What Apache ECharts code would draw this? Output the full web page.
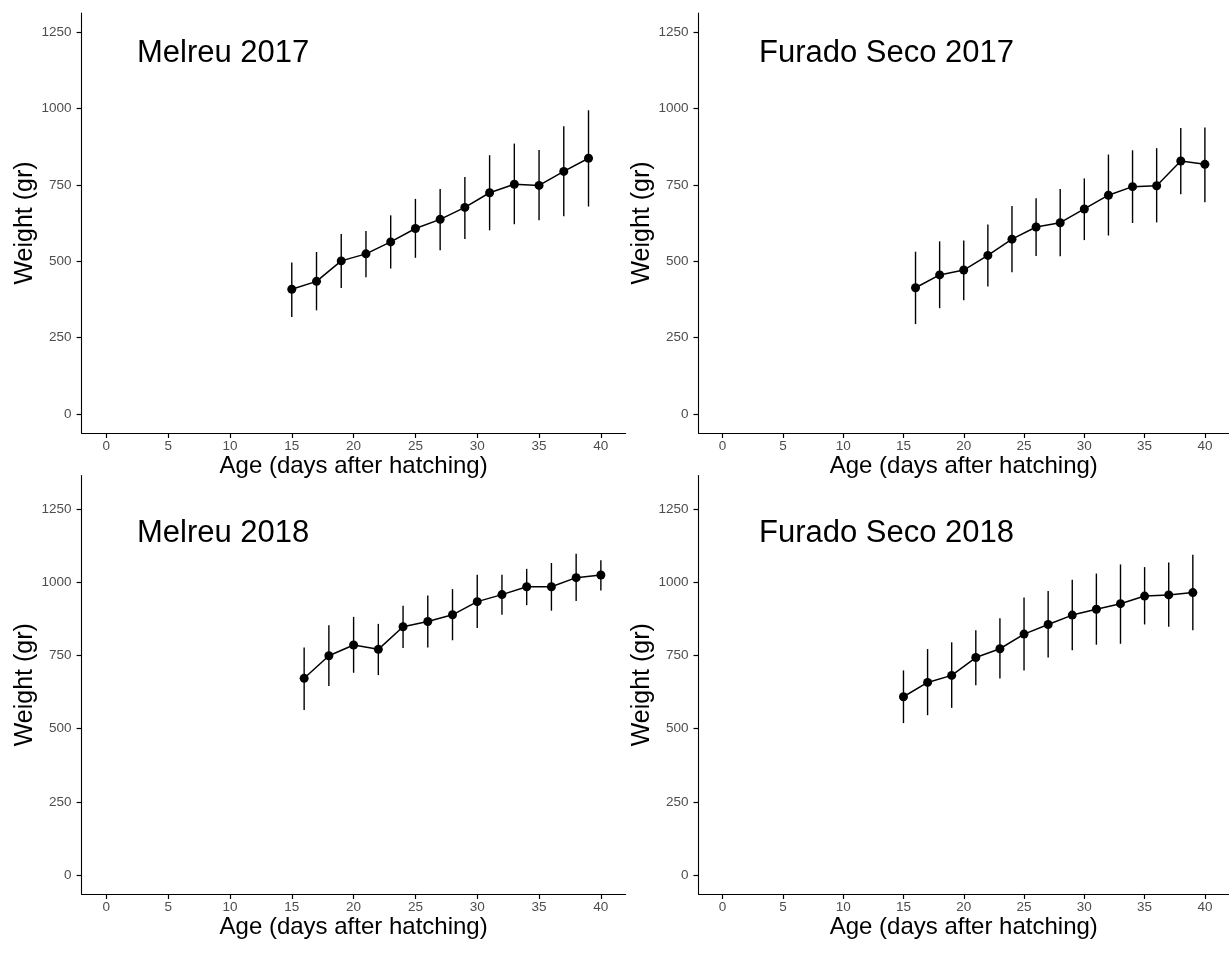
<!DOCTYPE html>
<html>
<head>
<meta charset="utf-8">
<script src="https://cdn.jsdelivr.net/npm/echarts@6/dist/echarts.min.js"></script>
<style>
  html, body { margin: 0; padding: 0; background: #fff; }
  #chart { width: 1229px; height: 958px; }
</style>
</head>
<body>
<div id="chart"></div>
<script>
// ---- Data ----
const panelTitles = ['Melreu 2017', 'Furado Seco 2017', 'Melreu 2018', 'Furado Seco 2018'];
const xTicks = [0, 5, 10, 15, 20, 25, 30, 35, 40];
const yTicks = [0, 250, 500, 750, 1000, 1250];
const xTitle = 'Age (days after hatching)';
const yTitle = 'Weight (gr)';

const agesMelreu2017 = [15, 17, 19, 21, 23, 25, 27, 29, 31, 33, 35, 37, 39];
const meanMelreu2017 = [408, 434, 501, 524, 563, 607, 637, 676, 724, 752, 748, 794, 837];
const upperMelreu2017 = [496, 530, 589, 599, 650, 704, 736, 776, 847, 885, 864, 942, 994];
const lowerMelreu2017 = [317, 339, 412, 447, 476, 511, 536, 573, 601, 621, 634, 647, 679];

const agesFurado2017 = [16, 18, 20, 22, 24, 26, 28, 30, 32, 34, 36, 38, 40];
const meanFurado2017 = [413, 455, 471, 519, 572, 612, 626, 671, 716, 744, 747, 828, 817];
const upperFurado2017 = [531, 565, 568, 620, 681, 706, 736, 771, 849, 863, 870, 936, 938];
const lowerFurado2017 = [294, 346, 372, 417, 464, 517, 516, 569, 584, 625, 627, 719, 693];

const agesMelreu2018 = [16, 18, 20, 22, 24, 26, 28, 30, 32, 34, 36, 38, 40];
const meanMelreu2018 = [672, 749, 786, 771, 848, 866, 889, 934, 958, 985, 985, 1016, 1025];
const upperMelreu2018 = [777, 853, 882, 858, 920, 955, 977, 1026, 1026, 1046, 1066, 1098, 1075];
const lowerMelreu2018 = [564, 646, 691, 683, 776, 777, 802, 844, 889, 922, 903, 936, 972];

const agesFurado2018 = [15, 17, 19, 21, 23, 25, 27, 29, 31, 33, 35, 37, 39];
const meanFurado2018 = [609, 658, 682, 743, 773, 823, 856, 888, 908, 927, 953, 957, 965];
const upperFurado2018 = [699, 772, 795, 836, 877, 948, 970, 1009, 1030, 1061, 1052, 1068, 1094];
const lowerFurado2018 = [519, 546, 571, 648, 671, 699, 743, 768, 787, 790, 856, 848, 836];

// ---- Layout ----
const FONT = "'Liberation Sans', Arial, Helvetica, sans-serif";
const panels = [
  { ages: agesMelreu2017, mean: meanMelreu2017, up: upperMelreu2017, lo: lowerMelreu2017,
    grid: { left: 81.6, top: 13, width: 544, height: 420 }, yRange: [-62.5, 1312.5],
    titlePos: { left: 137, top: 38 } },
  { ages: agesFurado2017, mean: meanFurado2017, up: upperFurado2017, lo: lowerFurado2017,
    grid: { left: 698.5, top: 13, width: 541, height: 420 }, yRange: [-62.5, 1312.5],
    titlePos: { left: 759, top: 38 } },
  { ages: agesMelreu2018, mean: meanMelreu2018, up: upperMelreu2018, lo: lowerMelreu2018,
    grid: { left: 81.6, top: 475.5, width: 544, height: 418.5 }, yRange: [-65, 1365],
    titlePos: { left: 137, top: 518 } },
  { ages: agesFurado2018, mean: meanFurado2018, up: upperFurado2018, lo: lowerFurado2018,
    grid: { left: 698.5, top: 475.5, width: 541, height: 418.5 }, yRange: [-65, 1365],
    titlePos: { left: 759, top: 518 } }
];

const axisLineStyle = { color: '#000', width: 1.1 };
const tickStyle = { color: '#000', width: 1.2 };
const labelStyle = { color: '#4D4D4D', fontSize: 13.5, fontFamily: FONT };
const nameStyle = { color: '#000', fontSize: 24, fontFamily: FONT };
const plain = v => String(v);

const option = {
  backgroundColor: '#fff',
  animation: false,
  title: panels.map((p, i) => ({
    text: panelTitles[i],
    left: p.titlePos.left, top: p.titlePos.top, padding: 0,
    textStyle: { color: '#000', fontSize: 31, fontWeight: 'normal', fontFamily: FONT }
  })),
  grid: panels.map(p => Object.assign({ containLabel: false }, p.grid)),
  xAxis: panels.map((p, i) => ({
    type: 'value', gridIndex: i, min: -2, max: 42,
    name: xTitle, nameLocation: 'middle', nameGap: 20, nameTextStyle: nameStyle,
    splitLine: { show: false },
    axisLine: { show: true, onZero: false, lineStyle: axisLineStyle },
    axisTick: { show: true, length: 5, inside: false, lineStyle: tickStyle, customValues: xTicks },
    axisLabel: Object.assign({ show: true, margin: 6, customValues: xTicks, formatter: plain }, labelStyle)
  })),
  yAxis: panels.map((p, i) => ({
    type: 'value', gridIndex: i, min: p.yRange[0], max: p.yRange[1],
    name: yTitle, nameLocation: 'middle', nameGap: 33, nameTextStyle: Object.assign({}, nameStyle, { fontSize: 25 }),
    splitLine: { show: false },
    axisLine: { show: true, onZero: false, lineStyle: axisLineStyle },
    axisTick: { show: true, length: 5, inside: false, lineStyle: tickStyle, customValues: yTicks },
    axisLabel: Object.assign({ show: true, margin: 10, customValues: yTicks, formatter: plain }, labelStyle)
  })),
  series: []
};

panels.forEach((p, i) => {
  option.series.push({
    type: 'custom', xAxisIndex: i, yAxisIndex: i, z: 2,
    data: p.ages.map((a, k) => [a, p.lo[k], p.up[k]]),
    renderItem: function (params, api) {
      const x = api.value(0);
      const a = api.coord([x, api.value(1)]);
      const b = api.coord([x, api.value(2)]);
      return {
        type: 'line',
        shape: { x1: a[0], y1: a[1], x2: b[0], y2: b[1] },
        style: { stroke: '#000', lineWidth: 1.4 }
      };
    }
  });
  option.series.push({
    type: 'line', xAxisIndex: i, yAxisIndex: i, z: 3,
    data: p.ages.map((a, k) => [a, p.mean[k]]),
    symbol: 'circle', symbolSize: 9, showSymbol: true,
    itemStyle: { color: '#000' },
    lineStyle: { color: '#000', width: 1.5 }
  });
});

const chart = echarts.init(document.getElementById('chart'), null, { renderer: 'canvas' });
chart.setOption(option);
</script>
</body>
</html>
